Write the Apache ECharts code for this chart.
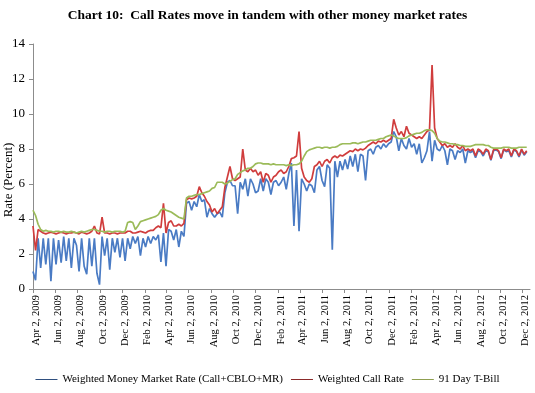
<!DOCTYPE html>
<html>
<head>
<meta charset="utf-8">
<script src="https://cdn.jsdelivr.net/npm/echarts@6/dist/echarts.min.js"></script>
<style>
  html, body { margin: 0; padding: 0; background: #fff; }
  #chart { width: 535px; height: 393px; }
</style>
</head>
<body>
<div id="chart"></div>
<script>
// Weekly observations starting Apr 2, 2009
const startDate = [2009, 3, 2];
const stepDays = 7;

// Weighted Money Market Rate (Call+CBLO+MR)
const wmmr = [
  1.0, 0.5, 2.9, 1.2, 2.9, 1.4, 2.9, 0.45, 2.9, 1.4,
  2.8, 1.5, 3.0, 1.6, 2.9, 1.2, 2.9, 2.5, 1.0, 2.9,
  1.3, 0.85, 2.9, 1.3, 2.9, 0.9, 0.25, 3.0, 1.9, 2.9,
  1.1, 2.9, 2.1, 2.9, 1.8, 2.9, 1.6, 2.9, 2.3, 3.0,
  2.6, 3.0, 1.9, 2.9, 2.4, 3.0, 2.6, 3.0, 2.8, 3.1,
  1.55, 3.2, 1.3, 3.4, 3.3, 2.8, 3.4, 2.4, 3.3, 3.0,
  4.9, 5.0, 4.5, 5.0, 4.7, 5.4, 5.0, 5.1, 4.1, 4.6,
  4.3, 4.1, 4.3, 4.4, 4.1, 5.5, 6.1, 6.2, 5.9, 5.9,
  4.3, 6.1, 5.7, 6.3, 5.3, 6.3, 6.0, 5.5, 5.6, 6.3,
  5.6, 6.3, 6.1, 5.4, 6.1, 6.2, 5.9, 6.1, 6.4, 5.7,
  6.6, 7.2, 3.6, 6.8, 3.3, 6.3, 6.0, 5.6, 6.0, 5.9,
  5.5, 6.8, 7.0, 6.2, 5.85, 7.1, 6.9, 2.25, 7.3, 6.4,
  7.3, 6.8, 7.4, 6.85, 7.6, 7.0, 7.7, 6.7, 7.7, 7.6,
  6.2, 7.9, 8.0, 7.7, 8.1, 8.2, 8.0, 8.3, 8.1, 8.3,
  8.4, 9.0, 8.7, 7.9, 8.6, 8.2, 8.0, 8.6, 8.1, 8.3,
  7.7, 8.3, 7.2, 7.5, 7.9, 9.0, 7.3, 8.5, 8.0, 7.9,
  8.2, 7.9, 7.1, 8.0, 7.9, 7.4, 7.9, 7.8, 8.0, 7.2,
  7.9, 7.8, 7.9, 7.5, 7.9, 7.85, 7.6, 7.9, 7.85, 7.35,
  7.9, 7.95, 7.85, 7.45, 7.95, 7.85, 7.9, 7.55, 7.95, 7.85,
  7.55, 7.95, 7.65, 7.85
];

// Weighted Call Rate
const callRate = [
  3.6, 2.2, 3.4, 3.3, 3.2, 3.15, 3.2, 3.25, 3.2, 3.15,
  3.2, 3.25, 3.2, 3.15, 3.2, 3.2, 3.25, 3.2, 3.15, 3.25,
  3.2, 3.15, 3.2, 3.3, 3.6, 3.2, 3.15, 4.1, 3.2, 3.2,
  3.15, 3.2, 3.2, 3.15, 3.2, 3.2, 3.2, 3.3, 3.3, 3.2,
  3.2, 3.25, 3.3, 3.25, 3.2, 3.3, 3.35, 3.35, 3.5, 3.6,
  3.5, 4.9, 3.2, 3.8, 3.9, 3.6, 3.6, 3.7, 3.6, 3.75,
  5.1, 5.2, 5.15, 5.2, 5.3, 5.85, 5.5, 5.3, 5.0, 4.8,
  4.4, 4.6, 4.3, 4.5, 4.7, 5.8, 6.4, 7.0, 6.3, 6.2,
  6.3, 6.4, 8.0, 6.8, 6.7, 6.9, 6.7, 6.8, 6.5, 6.7,
  6.1, 6.6, 6.5, 6.1, 6.4, 6.5, 6.7, 6.8, 6.6, 6.7,
  7.0, 7.45, 7.5, 7.6, 9.0, 6.9, 6.4, 6.2, 6.1, 6.3,
  7.0, 7.1, 7.3, 7.0, 7.3, 7.4, 7.2, 7.5, 7.6, 7.5,
  7.65, 7.6, 7.7, 7.8, 7.9, 7.85, 8.0, 7.9, 8.0, 7.95,
  8.05, 8.2, 8.3, 8.4, 8.3, 8.45, 8.4, 8.5, 8.4, 8.5,
  8.6, 9.7, 9.2, 8.8, 9.0, 8.7, 9.3, 8.9, 8.8, 8.7,
  8.6, 8.7, 8.6, 8.8, 9.0, 9.1, 12.8, 9.2, 8.6, 8.4,
  8.2, 8.3, 8.1, 8.2, 8.1, 8.3, 8.1, 8.0, 8.2, 7.9,
  8.0, 7.9, 8.0, 7.6, 8.0, 7.9, 7.7, 8.0, 7.9, 7.4,
  7.95, 8.0, 7.9, 7.5, 8.0, 7.9, 8.0, 7.6, 8.0, 7.9,
  7.6, 8.0, 7.7, 7.9
];

// 91 Day T-Bill
const tbill = [
  4.5, 4.2, 3.7, 3.4, 3.3, 3.35, 3.3, 3.3, 3.25, 3.3,
  3.3, 3.25, 3.3, 3.25, 3.25, 3.3, 3.25, 3.2, 3.25, 3.3,
  3.25, 3.3, 3.35, 3.4, 3.4, 3.35, 3.3, 3.3, 3.25, 3.3,
  3.3, 3.25, 3.3, 3.3, 3.3, 3.25, 3.3, 3.8, 3.85, 3.8,
  3.4, 3.6, 3.85, 3.9, 3.95, 4.0, 4.05, 4.1, 4.15, 4.25,
  4.5, 4.6, 4.5, 4.45, 4.4, 4.3, 4.2, 4.1, 4.05, 4.0,
  5.2, 5.3, 5.3, 5.35, 5.4, 5.4, 5.45, 5.5, 5.55, 5.6,
  5.75, 5.8, 6.1, 6.1, 6.1, 6.0, 6.05, 6.15, 6.25, 6.3,
  6.55, 6.65, 6.75, 6.8, 6.9, 6.9, 7.0, 7.15, 7.2, 7.2,
  7.15, 7.15, 7.15, 7.1, 7.15, 7.1, 7.1, 7.1, 7.1, 7.05,
  7.1, 7.05, 7.1, 7.1, 7.15, 7.3, 7.6, 7.85, 7.95, 8.0,
  8.05, 8.1, 8.1, 8.05, 8.1, 8.1, 8.05, 8.1, 8.1, 8.15,
  8.25, 8.3, 8.3, 8.3, 8.3, 8.35, 8.35, 8.3, 8.35, 8.4,
  8.4, 8.45, 8.5, 8.5, 8.5, 8.55, 8.6, 8.6, 8.7, 8.75,
  8.8, 8.75, 8.65, 8.6, 8.6, 8.6, 8.65, 8.75, 8.8, 8.85,
  8.9, 8.9, 8.95, 9.05, 9.1, 9.1, 9.05, 8.9, 8.6, 8.45,
  8.4, 8.4, 8.35, 8.3, 8.3, 8.25, 8.25, 8.2, 8.2, 8.15,
  8.15, 8.15, 8.2, 8.25, 8.25, 8.25, 8.25, 8.2, 8.2, 8.1,
  8.05, 8.05, 8.05, 8.05, 8.1, 8.1, 8.1, 8.05, 8.05, 8.05,
  8.1, 8.1, 8.1, 8.1
];

// X tick labels (every two months, on the 2nd)
const tickLabels = [
  'Apr 2, 2009', 'Jun 2, 2009', 'Aug 2, 2009', 'Oct 2, 2009', 'Dec 2, 2009',
  'Feb 2, 2010', 'Apr 2, 2010', 'Jun 2, 2010', 'Aug 2, 2010', 'Oct 2, 2010', 'Dec 2, 2010',
  'Feb 2, 2011', 'Apr 2, 2011', 'Jun 2, 2011', 'Aug 2, 2011', 'Oct 2, 2011', 'Dec 2, 2011',
  'Feb 2, 2012', 'Apr 2, 2012', 'Jun 2, 2012', 'Aug 2, 2012', 'Oct 2, 2012', 'Dec 2, 2012'
];
const yTicks = [0, 2, 4, 6, 8, 10, 12, 14];

const seriesNames = ['Weighted Money Market Rate (Call+CBLO+MR)', 'Weighted Call Rate', '91 Day T-Bill'];

// x is measured in days since the first observation
const DAY = 86400000;
const t0 = Date.UTC(startDate[0], startDate[1], startDate[2]);
const dayOf = s => Math.round((Date.parse(s + ' UTC') - t0) / DAY);
const xDays = wmmr.map((_, i) => i * stepDays);
const toPairs = arr => arr.map((v, i) => [xDays[i], v]);

const tickVals = tickLabels.map(dayOf);
const labelVals = tickVals.map(v => v + 8);
const xMax = dayOf('Dec 22, 2012');

const chart = echarts.init(document.getElementById('chart'), null, { renderer: 'canvas' });
const serif = 'Liberation Serif, Times New Roman, serif';

chart.setOption({
  animation: false,
  backgroundColor: '#ffffff',
  title: {
    text: 'Chart 10:  Call Rates move in tandem with other money market rates',
    left: 'center',
    top: 4,
    textStyle: { fontFamily: serif, fontSize: 13.5, fontWeight: 'bold', color: '#000' }
  },
  graphic: [{
    type: 'text',
    x: 9, y: 180,
    rotation: Math.PI / 2,
    style: {
      text: 'Rate (Percent)',
      fontFamily: serif, fontSize: 13, fill: '#000',
      textAlign: 'center', textVerticalAlign: 'middle'
    }
  }],
  legend: {
    bottom: 3,
    left: 'center',
    itemWidth: 22,
    itemHeight: 8,
    itemGap: 8,
    textStyle: { fontFamily: serif, fontSize: 11, color: '#000' },
    data: [
      { name: seriesNames[0], icon: 'path://M0,4 L22,4 L22,5 L0,5 Z', itemStyle: { color: '#2f4f7f' } },
      { name: seriesNames[1], icon: 'path://M0,4 L22,4 L22,5 L0,5 Z', itemStyle: { color: '#8b2a2a' } },
      { name: seriesNames[2], icon: 'path://M0,4 L22,4 L22,5 L0,5 Z', itemStyle: { color: '#8f9f50' } }
    ]
  },
  grid: { left: 33, right: 5, top: 44, bottom: 104, containLabel: false },
  xAxis: {
    type: 'value',
    min: 0,
    max: xMax,
    axisLine: { show: true, onZero: false, lineStyle: { color: '#8c8c8c', width: 1 } },
    axisTick: { show: true, customValues: tickVals, length: 4, lineStyle: { color: '#8c8c8c' } },
    axisLabel: {
      customValues: labelVals,
      rotate: 90,
      margin: 6,
      fontFamily: serif, fontSize: 10.5, color: '#000',
      formatter: function (v) {
        let best = 0, bd = Infinity;
        labelVals.forEach((lv, i) => { const d = Math.abs(lv - v); if (d < bd) { bd = d; best = i; } });
        return tickLabels[best];
      }
    },
    splitLine: { show: false }
  },
  yAxis: {
    type: 'value',
    min: 0, max: 14, interval: 2,
    axisLine: { show: true, onZero: false, lineStyle: { color: '#8c8c8c', width: 1 } },
    axisTick: { show: true, length: 4, lineStyle: { color: '#8c8c8c' } },
    axisLabel: {
      margin: 8, fontFamily: serif, fontSize: 13, color: '#000',
      formatter: v => (yTicks.indexOf(v) >= 0 ? String(v) : '')
    },
    splitLine: { show: false }
  },
  series: [
    {
      name: seriesNames[0], type: 'line', data: toPairs(wmmr),
      showSymbol: false, symbol: 'none',
      lineStyle: { color: '#4a7bc4', width: 1.7 },
      itemStyle: { color: '#4a7bc4' }
    },
    {
      name: seriesNames[1], type: 'line', data: toPairs(callRate),
      showSymbol: false, symbol: 'none',
      lineStyle: { color: '#d03d3d', width: 1.7 },
      itemStyle: { color: '#d03d3d' }
    },
    {
      name: seriesNames[2], type: 'line', data: toPairs(tbill),
      showSymbol: false, symbol: 'none',
      lineStyle: { color: '#9bbb59', width: 1.7 },
      itemStyle: { color: '#9bbb59' }
    }
  ]
});
</script>
</body>
</html>
